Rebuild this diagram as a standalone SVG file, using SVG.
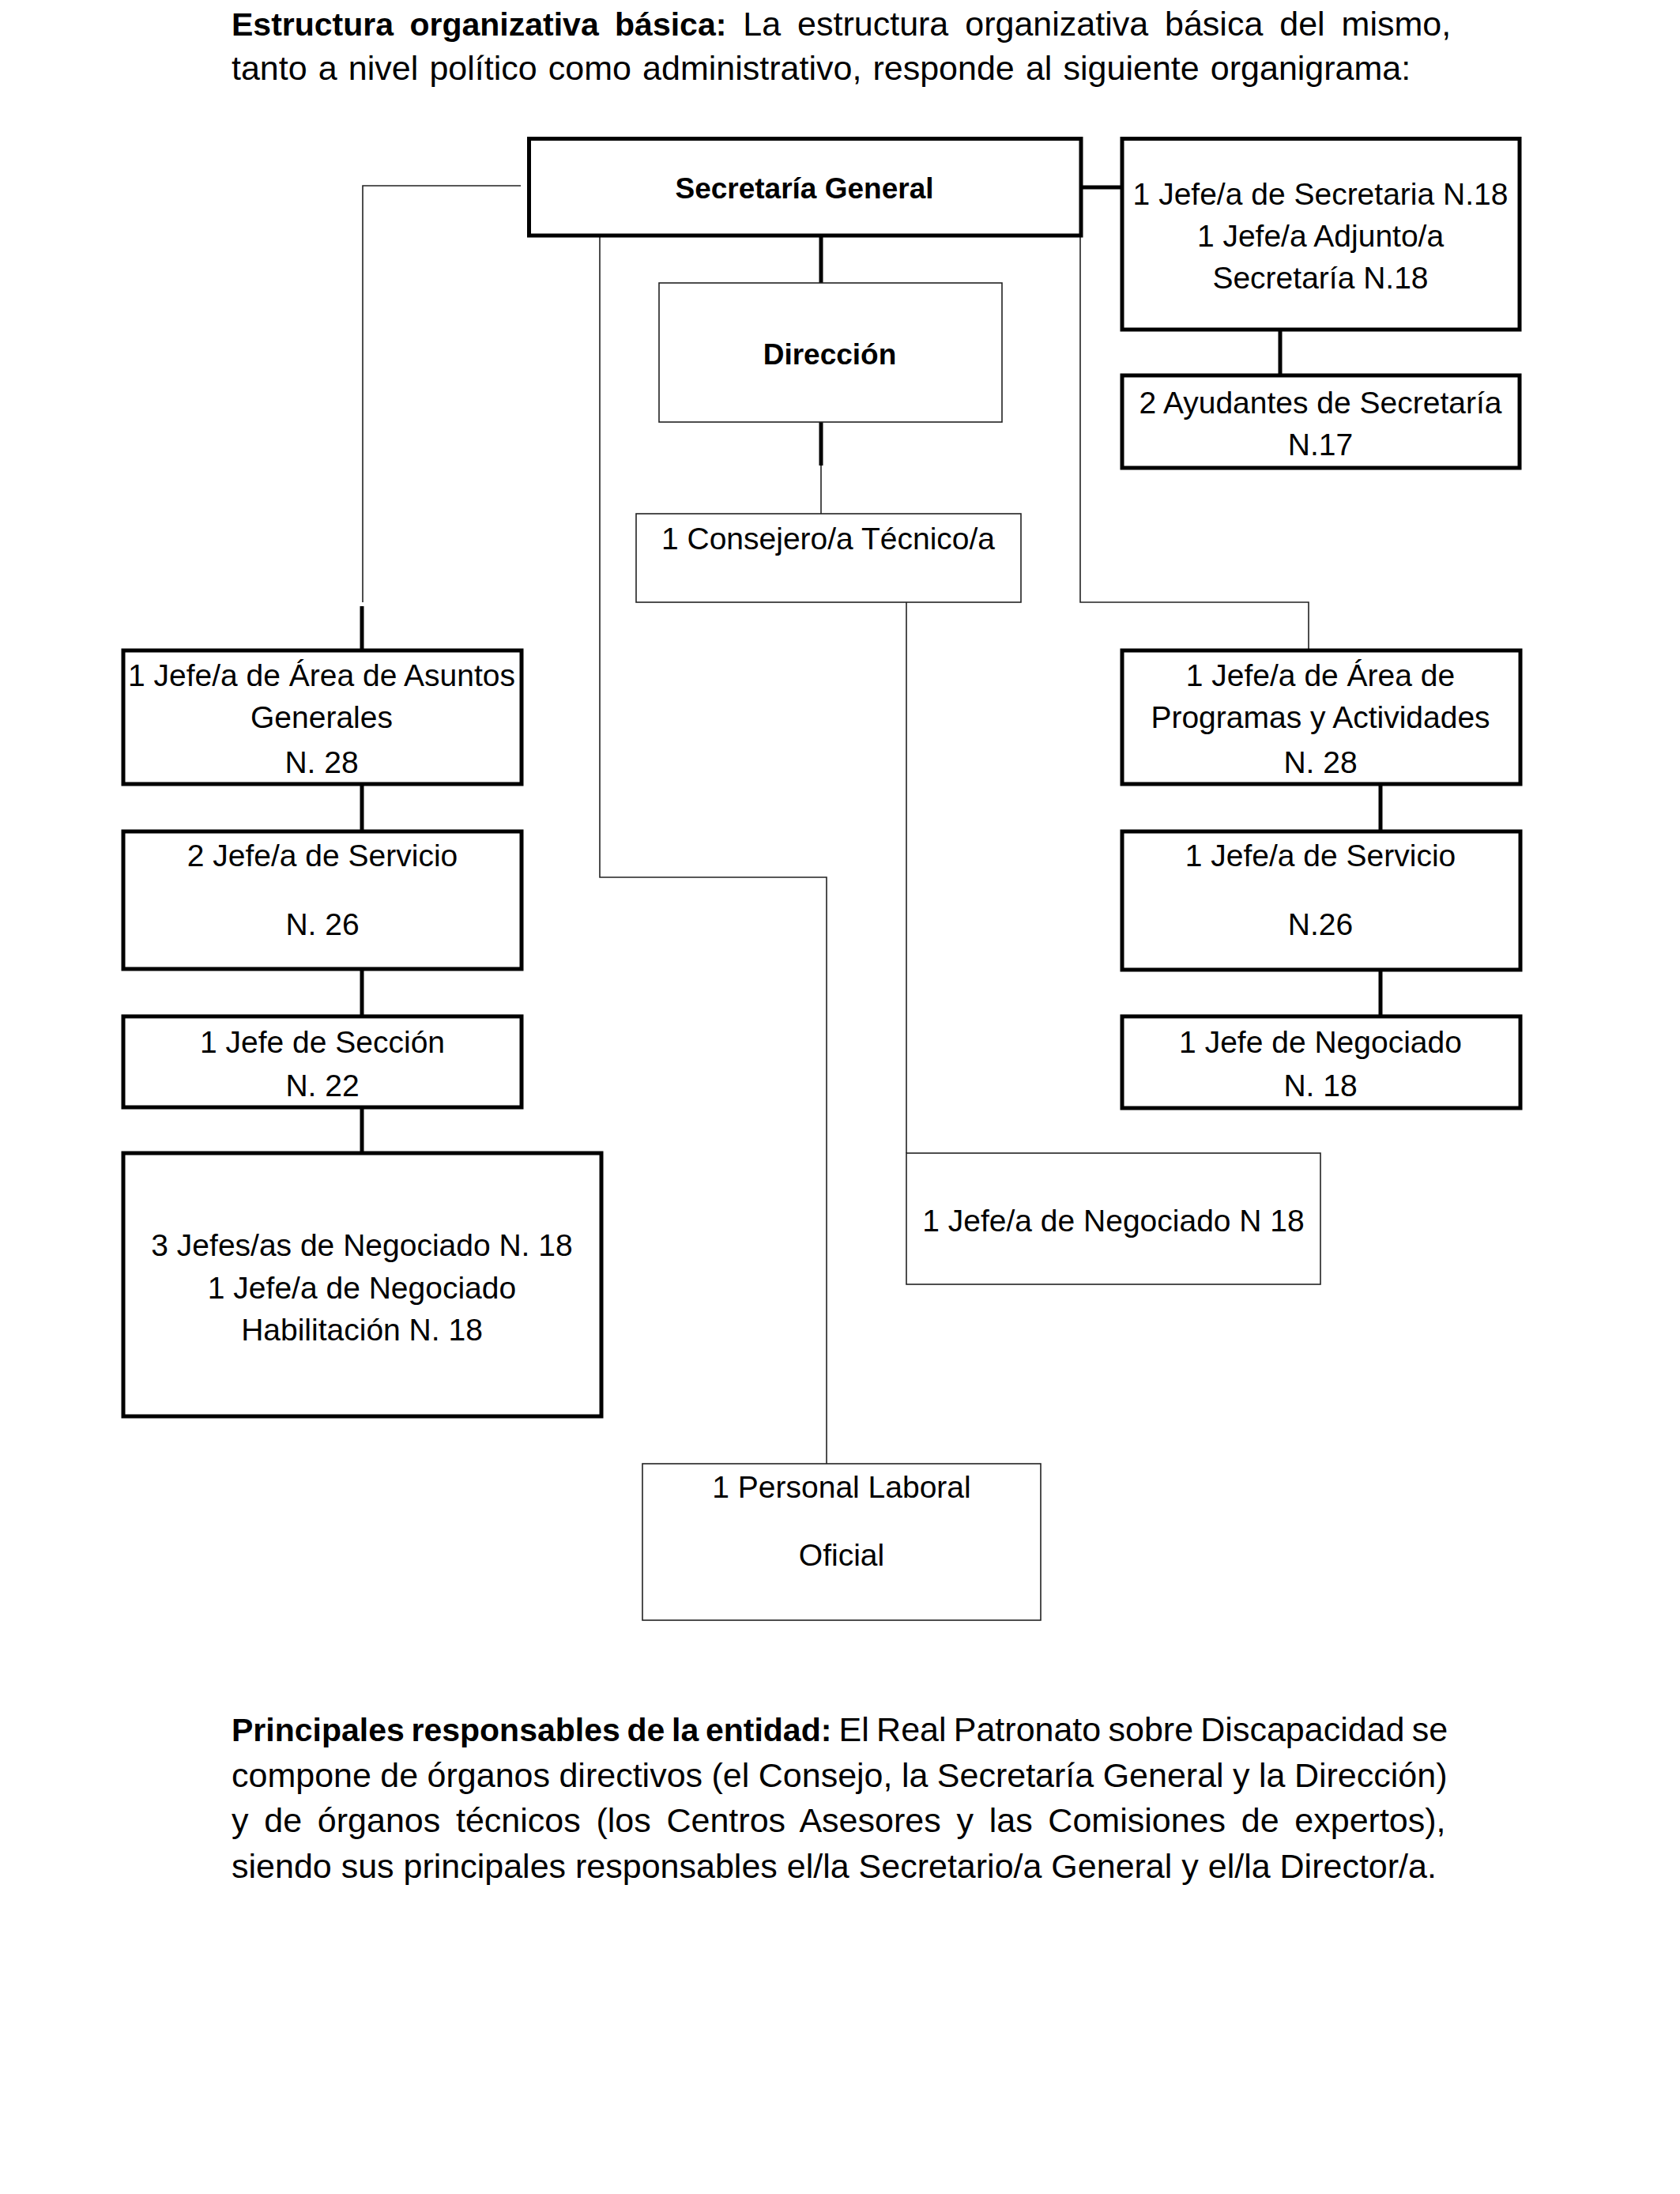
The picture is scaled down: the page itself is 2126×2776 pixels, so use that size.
<svg xmlns="http://www.w3.org/2000/svg" width="2126" height="2776" viewBox="0 0 2126 2776">
<style>
  text { font-family: "Liberation Sans", Arial, sans-serif; fill: #000; }
  .p { font-size: 43px; }
  .b { font-weight: bold; font-size: 41px; }
  .t { font-size: 39px; text-anchor: middle; }
  .tb { font-size: 37px; font-weight: bold; text-anchor: middle; }
  .thick { fill: #fff; stroke: #000; stroke-width: 5; }
  .thin { fill: #fff; stroke: #222; stroke-width: 1.6; }
  .cthin { stroke: #222; stroke-width: 1.6; fill: none; }
  .cthick { stroke: #000; stroke-width: 5; fill: none; }
</style>
<rect x="0" y="0" width="2126" height="2776" fill="#fff"/>

<g id="intro">
  <text class="p" x="293" y="45" word-spacing="9"><tspan class="b">Estructura organizativa básica:</tspan> La estructura organizativa básica del mismo,</text>
  <text class="p" x="293" y="101" word-spacing="2.2">tanto a nivel político como administrativo, responde al siguiente organigrama:</text>
</g>

<g id="connectors">
  <path class="cthin" d="M659,235 H459 V762"/>
  <path class="cthick" d="M458,767 V823"/>
  <path class="cthin" d="M759,298 V1110 H1046 V1852"/>
  <path class="cthin" d="M1367,298 V762 H1656 V823"/>
  <path class="cthin" d="M1147,762 V1459"/>
  <path class="cthick" d="M1039,298 V358"/>
  <path class="cthick" d="M1039,533 V589"/>
  <path class="cthin" d="M1039,589 V650"/>
  <path class="cthick" d="M1368,237 H1420"/>
  <path class="cthick" d="M1620,417 V475"/>
  <path class="cthick" d="M458,992 V1052"/>
  <path class="cthick" d="M458,1226 V1286"/>
  <path class="cthick" d="M458,1401 V1459"/>
  <path class="cthick" d="M1747,992 V1052"/>
  <path class="cthick" d="M1747,1227 V1286"/>
</g>

<g id="secretaria-general">
  <rect class="thick" x="669.5" y="175.5" width="698.5" height="122.5"/>
  <text class="tb" x="1018" y="251">Secretaría General</text>
</g>

<g id="jefe-secretaria">
  <rect class="thick" x="1420" y="175.5" width="503" height="241.5"/>
  <text class="t" x="1671" y="259">1 Jefe/a de Secretaria N.18</text>
  <text class="t" x="1671" y="312">1 Jefe/a Adjunto/a</text>
  <text class="t" x="1671" y="365">Secretaría N.18</text>
</g>

<g id="ayudantes">
  <rect class="thick" x="1420" y="475" width="503" height="117"/>
  <text class="t" x="1671" y="523">2 Ayudantes de Secretaría</text>
  <text class="t" x="1671" y="576">N.17</text>
</g>

<g id="direccion">
  <rect class="thin" x="834" y="358" width="434" height="176"/>
  <text class="tb" x="1050" y="461">Dirección</text>
</g>

<g id="consejero">
  <rect class="thin" x="805" y="650" width="487" height="112"/>
  <text class="t" x="1048" y="695">1 Consejero/a Técnico/a</text>
</g>

<g id="area-asuntos-generales">
  <rect class="thick" x="156" y="823" width="504" height="169"/>
  <text class="t" x="407" y="868">1 Jefe/a de Área de Asuntos</text>
  <text class="t" x="407" y="921">Generales</text>
  <text class="t" x="407" y="978">N. 28</text>
</g>

<g id="servicio-izq">
  <rect class="thick" x="156" y="1052" width="504" height="174"/>
  <text class="t" x="408" y="1096">2 Jefe/a de Servicio</text>
  <text class="t" x="408" y="1183">N. 26</text>
</g>

<g id="seccion">
  <rect class="thick" x="156" y="1286" width="504" height="115"/>
  <text class="t" x="408" y="1332">1 Jefe de Sección</text>
  <text class="t" x="408" y="1387">N. 22</text>
</g>

<g id="negociados-izq">
  <rect class="thick" x="156" y="1459" width="605" height="333"/>
  <text class="t" x="458" y="1589">3 Jefes/as de Negociado N. 18</text>
  <text class="t" x="458" y="1643">1 Jefe/a de Negociado</text>
  <text class="t" x="458" y="1696">Habilitación N. 18</text>
</g>

<g id="area-programas">
  <rect class="thick" x="1420" y="823" width="504" height="169"/>
  <text class="t" x="1671" y="868">1 Jefe/a de Área de</text>
  <text class="t" x="1671" y="921">Programas y Actividades</text>
  <text class="t" x="1671" y="978">N. 28</text>
</g>

<g id="servicio-der">
  <rect class="thick" x="1420" y="1052" width="504" height="175"/>
  <text class="t" x="1671" y="1096">1 Jefe/a de Servicio</text>
  <text class="t" x="1671" y="1183">N.26</text>
</g>

<g id="negociado-der">
  <rect class="thick" x="1420" y="1286" width="504" height="116"/>
  <text class="t" x="1671" y="1332">1 Jefe de Negociado</text>
  <text class="t" x="1671" y="1387">N. 18</text>
</g>

<g id="negociado-n18">
  <rect class="thin" x="1147" y="1459" width="524" height="166"/>
  <text class="t" x="1409" y="1558">1 Jefe/a de Negociado N 18</text>
</g>

<g id="personal-laboral">
  <rect class="thin" x="813" y="1852" width="504" height="198"/>
  <text class="t" x="1065" y="1895">1 Personal Laboral</text>
  <text class="t" x="1065" y="1981">Oficial</text>
</g>

<g id="responsables">
  <text class="p" x="293" y="2203" word-spacing="-2.7"><tspan class="b">Principales responsables de la entidad:</tspan> El Real Patronato sobre Discapacidad se</text>
  <text class="p" x="293" y="2261" word-spacing="-0.5">compone de órganos directivos (el Consejo, la Secretaría General y la Dirección)</text>
  <text class="p" x="293" y="2318" word-spacing="7.8">y de órganos técnicos (los Centros Asesores y las Comisiones de expertos),</text>
  <text class="p" x="293" y="2376">siendo sus principales responsables el/la Secretario/a General y el/la Director/a.</text>
</g>
</svg>
